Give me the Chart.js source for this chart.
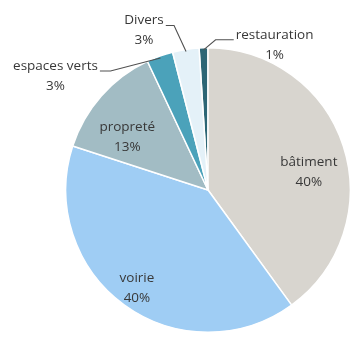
<!DOCTYPE html>
<html>
<head>
<meta charset="utf-8">
<script src="https://cdn.jsdelivr.net/npm/chart.js@4/dist/chart.umd.min.js"></script>
<style>
  html, body { margin: 0; padding: 0; background: #fff; }
  #wrap { width: 352px; height: 337px; }
</style>
</head>
<body>
<div id="wrap"><canvas id="budget" width="352" height="337"></canvas></div>
<script>
// Budget split by domain, clockwise from just left of 12 o'clock
const categories = ["restauration", "bâtiment", "voirie", "propreté", "espaces verts", "Divers"];
const shares = [1, 40, 40, 13, 3, 3];
const sliceColors = ["#2d6675", "#d8d5cf", "#9fcdf4", "#a2bcc4", "#4ba2ba", "#e4f1f8"];

// Draws "name / xx%" labels: inside for big slices, outside with a leader line for small ones
const sliceLabels = {
  id: "sliceLabels",
  afterDatasetsDraw(chart, args, opts) {
    const ctx = chart.ctx;
    const meta = chart.getDatasetMeta(0);
    ctx.save();
    ctx.font = opts.font;
    ctx.fillStyle = opts.color;
    ctx.textAlign = "center";
    ctx.textBaseline = "middle";
    meta.data.forEach((arc, i) => {
      const mid = (arc.startAngle + arc.endAngle) / 2;
      const name = chart.data.labels[i];
      const pct = chart.data.datasets[0].data[i] + "%";
      const place = opts.inside[i];
      if (place.r > 0) {
        const a = mid + place.turn * Math.PI / 180;
        const r = arc.outerRadius * place.r;
        const x = arc.x + Math.cos(a) * r;
        const y = arc.y + Math.sin(a) * r;
        ctx.fillText(name, x, y - 10);
        ctx.fillText(pct, x, y + 10);
        return;
      }
      const out = opts.outside[i];
      // anchor on the slice edge
      const ax = arc.x + Math.cos(mid) * (arc.outerRadius - 2);
      const ay = arc.y + Math.sin(mid) * (arc.outerRadius - 2);
      const tx = ax + out.dx;
      const ty = ay + out.dy;
      const w = ctx.measureText(name).width;
      const ex = out.dx < 0 ? tx + w / 2 + 2 : tx - w / 2 - 2;
      const ey = ty - 5;
      ctx.strokeStyle = opts.lineColor;
      ctx.lineWidth = 1.1;
      ctx.beginPath();
      ctx.moveTo(ax, ay);
      ctx.lineTo(ax + out.elbow, ey);
      ctx.lineTo(ex, ey);
      ctx.stroke();
      ctx.fillText(name, tx, ty - 10);
      ctx.fillText(pct, tx, ty + 10);
    });
    ctx.restore();
  }
};

new Chart(document.getElementById("budget"), {
  type: "pie",
  data: {
    labels: categories,
    datasets: [{
      data: shares,
      backgroundColor: sliceColors,
      borderColor: "#ffffff",
      borderWidth: 1.5
    }]
  },
  options: {
    responsive: false,
    animation: false,
    rotation: -3.6,
    layout: { padding: { top: 47, bottom: 4, left: 65, right: 1 } },
    plugins: {
      legend: { display: false },
      tooltip: { enabled: false },
      sliceLabels: {
        font: "13.5px 'Open Sans', sans-serif",
        color: "#383838",
        lineColor: "#505050",
        inside: [
          { r: 0, turn: 0 },
          { r: 0.72, turn: 8 },
          { r: 0.85, turn: 0 },
          { r: 0.68, turn: -8 },
          { r: 0, turn: 0 },
          { r: 0, turn: 0 }
        ],
        outside: [
          { dx: 71, dy: -5, elbow: 12 },
          { dx: 0, dy: 0, elbow: 0 },
          { dx: 0, dy: 0, elbow: 0 },
          { dx: 0, dy: 0, elbow: 0 },
          { dx: -105, dy: 18, elbow: -50 },
          { dx: -42, dy: -21, elbow: -12 }
        ]
      }
    }
  },
  plugins: [sliceLabels]
});
</script>
</body>
</html>
